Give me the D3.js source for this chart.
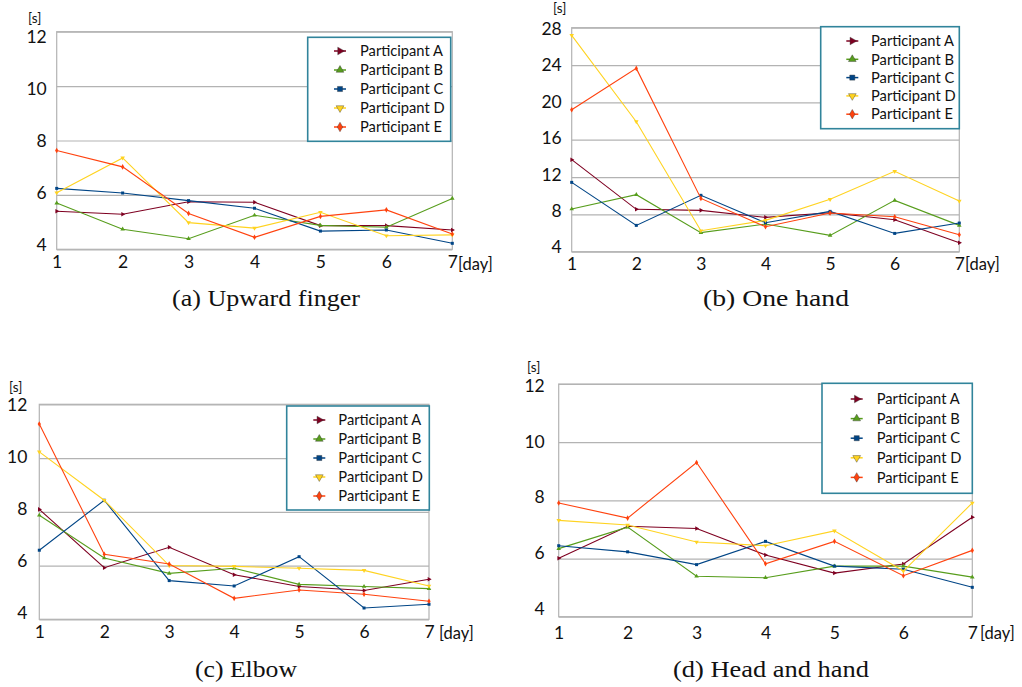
<!DOCTYPE html>
<html>
<head>
<meta charset="utf-8">
<script src="https://cdn.jsdelivr.net/npm/d3@7"></script>
<style>
  body { margin: 0; background: #fff; }
  svg { display: block; }
</style>
</head>
<body>
<svg id="chart" width="1022" height="687"></svg>
<script>
// data
const days = [1, 2, 3, 4, 5, 6, 7];
const participants = ["Participant A", "Participant B", "Participant C", "Participant D", "Participant E"];
const colors = ["#7e0021", "#579d1c", "#004586", "#ffd320", "#ff420e"];

const upwardFinger = [
    [5.40, 5.29, 5.75, 5.73, 4.87, 4.87, 4.71],
    [5.70, 4.74, 4.39, 5.25, 4.88, 4.81, 5.87],
    [6.24, 6.07, 5.79, 5.51, 4.67, 4.71, 4.22],
    [6.08, 7.36, 4.98, 4.78, 5.36, 4.50, 4.53],
    [7.63, 7.03, 5.32, 4.44, 5.21, 5.45, 4.56],
];
const oneHand = [
    [13.86, 8.54, 8.43, 7.68, 8.18, 7.43, 4.96],
    [8.57, 10.11, 6.04, 6.96, 5.75, 9.50, 6.82],
    [11.43, 6.82, 10.04, 7.11, 8.32, 5.96, 7.07],
    [27.18, 17.93, 6.25, 7.36, 9.61, 12.61, 9.43],
    [19.21, 23.64, 9.71, 6.68, 8.14, 7.75, 5.82],
];
const elbow = [
    [8.09, 5.92, 6.68, 5.66, 5.22, 5.07, 5.49],
    [7.87, 6.28, 5.71, 5.90, 5.30, 5.22, 5.14],
    [6.57, 8.43, 5.44, 5.24, 6.33, 4.42, 4.56],
    [10.23, 8.43, 6.00, 5.97, 5.90, 5.82, 5.24],
    [11.27, 6.42, 6.06, 4.78, 5.09, 4.93, 4.67],
];
const headAndHand = [
    [6.01, 7.11, 7.03, 6.12, 5.50, 5.81, 7.42],
    [6.34, 7.08, 5.39, 5.34, 5.74, 5.74, 5.36],
    [6.44, 6.23, 5.79, 6.59, 5.74, 5.63, 5.01],
    [7.31, 7.15, 6.57, 6.44, 6.95, 5.57, 7.91],
    [7.91, 7.39, 9.30, 5.82, 6.59, 5.41, 6.28],
];
const smallTicks = [4, 6, 8, 10, 12];
const bigTicks = [4, 8, 12, 16, 20, 24, 28];

// marker shapes: A right triangle, B up triangle, C square, D down triangle, E diamond
const shapes = [
    {type: d3.symbolTriangle, rot: 90},
    {type: d3.symbolTriangle, rot: 0},
    {type: d3.symbolSquare, rot: 0},
    {type: d3.symbolTriangle, rot: 180},
    {type: d3.symbolDiamond, rot: 0},
];

// labTop / labBot: the y labels sit a bit off the gridlines in the original
const panels = [
    {values: upwardFinger, domain: [4, 12], ticks: smallTicks,
     l: 56.7, t: 31.7, r: 452.3, b: 249.3, yGap: 10, xDy: 19, labTop: 5, labBot: -4,
     legend: {x: 307.7, y: 37.3, w: 143, h: 104, first: 13.7, step: 19, mx: 32.3, tx: 52.3},
     unit: [28, 23], day: [458, 270], caption: "(a) Upward finger", cap: [266, 306], capW: 188},
    {values: oneHand, domain: [4, 28], ticks: bigTicks,
     l: 571.7, t: 27.7, r: 959.3, b: 251.7, yGap: 10, xDy: 18.5, labTop: 1.3, labBot: -4.4,
     legend: {x: 820.7, y: 26.7, w: 138.6, h: 102, first: 14.3, step: 18.3, mx: 31.6, tx: 50.3},
     unit: [553, 13], day: [965, 270], caption: "(b) One hand", cap: [776, 306], capW: 146},
    {values: elbow, domain: [4, 12], ticks: smallTicks,
     l: 39.3, t: 404.3, r: 429, b: 619.3, yGap: 12, xDy: 18.5, labTop: 0.7, labBot: -6.6,
     legend: {x: 286.7, y: 406, w: 142.6, h: 104, first: 14, step: 19, mx: 32.6, tx: 51.6},
     unit: [9, 392], day: [439, 639], caption: "(c) Elbow", cap: [246, 677], capW: 102},
    {values: headAndHand, domain: [4, 12], ticks: smallTicks,
     l: 558.7, t: 384, r: 972.3, b: 616.7, yGap: 14, xDy: 22.5, labTop: 1.7, labBot: -7.7,
     legend: {x: 822, y: 383.3, w: 150.3, h: 110, first: 15.7, step: 19.6, mx: 34.7, tx: 54.7},
     unit: [527, 372], day: [980, 639], caption: "(d) Head and hand", cap: [771, 677], capW: 196},
];

const svg = d3.select("#chart");
const chartFont = "Lato, 'Open Sans', sans-serif";

function symbolPath(i, size) {
    return d3.symbol().type(shapes[i].type).size(size)();
}

function drawPanel(p) {
    let width = p.r - p.l;
    let height = p.b - p.t;
    let x = d3.scaleLinear().domain([1, 7]).range([0, width]);
    let y = d3.scaleLinear().domain(p.domain).range([height, 0]);
    // scale for label placement only
    let yLab = d3.scaleLinear().domain(p.domain).range([height + p.labBot, p.labTop]);

    let g = svg.append("g").attr("transform", `translate(${p.l},${p.t})`);

    // gridlines
    g.append("g")
        .call(d3.axisLeft(y).tickValues(p.ticks).tickSize(-width).tickFormat(""))
        .call(a => a.select(".domain").remove())
        .call(a => a.selectAll(".tick line").attr("stroke", "#b3b3b3").attr("stroke-width", 1.2));

    // y labels
    g.append("g")
        .call(d3.axisLeft(yLab).tickValues(p.ticks).tickSize(0).tickPadding(p.yGap))
        .call(a => a.select(".domain").remove())
        .call(a => a.selectAll(".tick text")
            .attr("fill", "#111")
            .style("font-family", chartFont)
            .style("font-size", "17.5px"));

    // plot frame
    g.append("rect")
        .attr("width", width).attr("height", height)
        .attr("fill", "none").attr("stroke", "#b3b3b3").attr("stroke-width", 1.2);

    // x axis labels
    g.append("g")
        .attr("transform", `translate(0,${height})`)
        .call(d3.axisBottom(x).tickValues(days).tickFormat(d3.format("d")).tickSize(0).tickPadding(0))
        .call(a => a.select(".domain").remove())
        .call(a => a.selectAll(".tick text")
            .attr("dy", p.xDy)
            .attr("y", 0)
            .attr("fill", "#111")
            .style("font-family", chartFont)
            .style("font-size", "17.5px"));

    // series
    let line = d3.line().x((d, i) => x(days[i])).y(d => y(d));
    p.values.forEach((vals, i) => {
        g.append("path")
            .datum(vals)
            .attr("fill", "none")
            .attr("stroke", colors[i])
            .attr("stroke-width", 1.1)
            .attr("d", line);
        g.selectAll(null)
            .data(vals)
            .join("path")
            .attr("d", symbolPath(i, 9))
            .attr("transform", (d, j) => `translate(${x(days[j])},${y(d)}) rotate(${shapes[i].rot})`)
            .attr("fill", colors[i]);
    });

    // legend
    let lg = p.legend;
    let leg = svg.append("g").attr("transform", `translate(${lg.x},${lg.y})`);
    leg.append("rect")
        .attr("width", lg.w).attr("height", lg.h)
        .attr("fill", "#fff").attr("stroke", "#31849b").attr("stroke-width", 1.6);
    participants.forEach((name, i) => {
        let yy = lg.first + i * lg.step;
        leg.append("line")
            .attr("x1", lg.mx - 6).attr("x2", lg.mx + 6)
            .attr("y1", yy).attr("y2", yy)
            .attr("stroke", colors[i]).attr("stroke-width", 1.5);
        leg.append("path")
            .attr("d", symbolPath(i, 26))
            .attr("transform", `translate(${lg.mx},${yy}) rotate(${shapes[i].rot})`)
            .attr("fill", colors[i])
            .attr("stroke", "#333").attr("stroke-width", 0.4);
        leg.append("text")
            .attr("x", lg.tx).attr("y", yy)
            .attr("dy", "0.36em")
            .style("font-family", chartFont)
            .style("font-size", "14.7px")
            .attr("fill", "#111")
            .text(name);
    });

    // units
    svg.append("text")
        .attr("x", p.unit[0]).attr("y", p.unit[1])
        .style("font-family", chartFont).style("font-size", "13.5px")
        .attr("fill", "#111")
        .text("[s]");
    svg.append("text")
        .attr("x", p.day[0]).attr("y", p.day[1])
        .style("font-family", chartFont).style("font-size", "16.5px")
        .attr("fill", "#111")
        .text("[day]");

    // caption (computer modern is wider than the serif we have, so stretch it)
    svg.append("text")
        .attr("x", p.cap[0]).attr("y", p.cap[1])
        .attr("text-anchor", "middle")
        .attr("textLength", p.capW)
        .attr("lengthAdjust", "spacingAndGlyphs")
        .style("font-family", "'Liberation Serif', 'DejaVu Serif', serif")
        .style("font-size", "23.5px")
        .attr("fill", "#111")
        .text(p.caption);
}

panels.forEach(drawPanel);
</script>
</body>
</html>
